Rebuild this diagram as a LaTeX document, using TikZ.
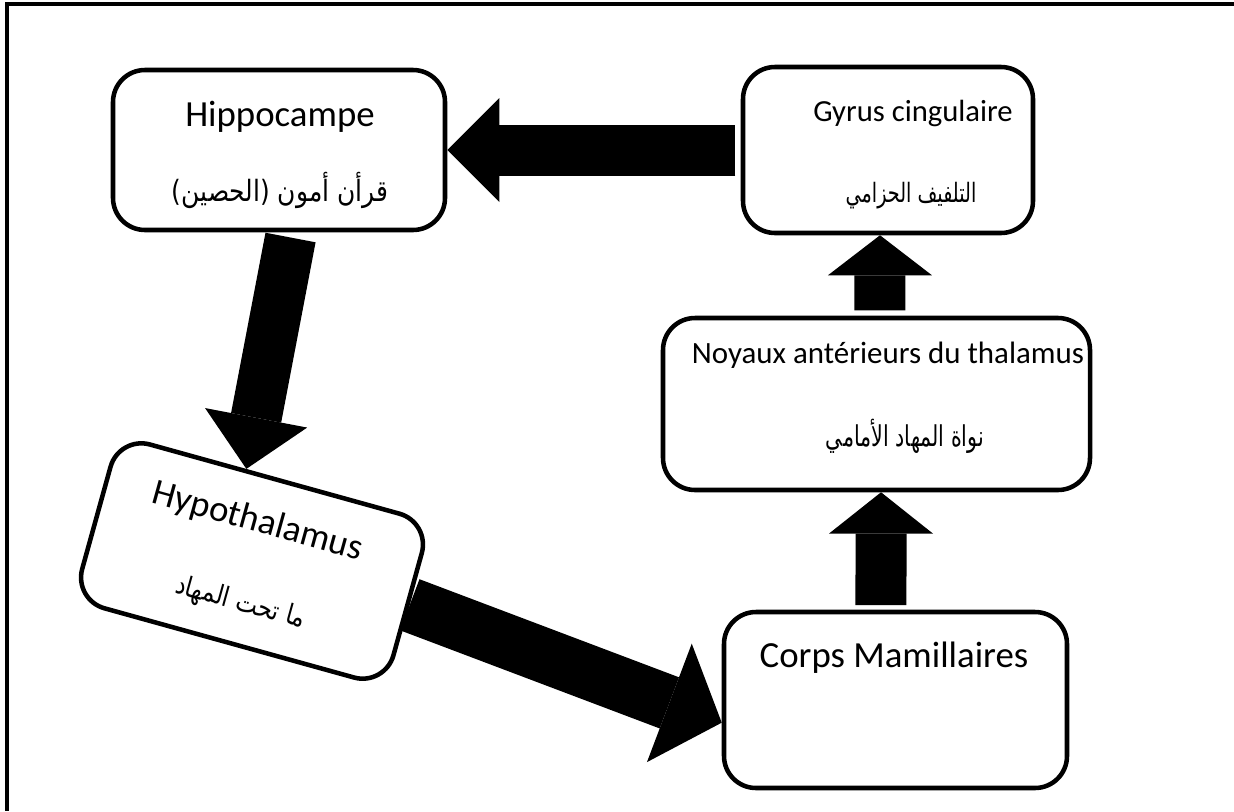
\documentclass[tikz,border=0pt]{standalone}
\usepackage{fontspec}
\setmainfont{Carlito}
\newfontfamily\arabicfont[Script=Arabic,FakeStretch=0.85]{DejaVu Sans}
\newfontfamily\arabicnarrow[Script=Arabic,FakeStretch=0.72]{DejaVu Sans}
\TeXXeTstate=1
\usetikzlibrary{arrows.meta}

\tikzset{
  roundbox/.style={draw, line width=3.4pt, rounded corners=24pt, inner sep=0pt},
  frtext/.style={font=\fontsize{27.6}{32}\selectfont},
  artext/.style={font=\arabicfont\fontsize{#1}{30}\selectfont},
  artext/.default=18,
  arnarrow/.style={font=\arabicnarrow\fontsize{#1}{30}\selectfont},
  bigarrow/.style={line width=38.25pt, -{Triangle[length=#1,width=78pt,line width=0pt]}},
  bigarrow/.default=39pt,
  frameline/.style={line width=2.3pt}
}

\begin{document}
\begin{tikzpicture}[x=0.75pt,y=0.75pt,yscale=-1,xscale=1]
\useasboundingbox (0,0) rectangle (1234,811);
%Frame lines
\draw[frameline] (1234,4) -- (7,4) -- (7,811);
%Rounded Rect [Hippocampe]
\node[roundbox, minimum width=249pt, minimum height=120pt] (hippo) at (279,150) {};
% Text Node
\node[frtext] (hippoFr) at (280,117) {Hippocampe};
% Text Node
\node[artext=22] (hippoAr) at (280,190) {\beginR قرأن أمون (الحصين)\endR};
%Rounded Rect [Gyrus]
\node[roundbox, minimum width=217.5pt, minimum height=124.5pt] (gyrus) at (888,150) {};
% Text Node
\node[font=\fontsize{23}{30}\selectfont] (gyrusFr) at (913,113) {Gyrus cingulaire};
% Text Node
\node[arnarrow=20] (gyrusAr) at (911,196) {\beginR التلفيف الحزامي\endR};
%Rounded Rect [Noyaux]
\node[roundbox, minimum width=320.25pt, minimum height=129pt] (noyaux) at (876.5,404) {};
% Text Node
\node[font=\fontsize{23.2}{30}\selectfont] (noyauxFr) at (888,355) {Noyaux antérieurs du thalamus};
% Text Node
\node[arnarrow=21.5] (noyauxAr) at (905,436) {\beginR نواة المهاد الأمامي\endR};
%Rounded Rect [Corps]
\node[roundbox, minimum width=257.25pt, minimum height=132pt] (corps) at (895.5,700) {};
% Text Node
\node[frtext] (corpsFr) at (894,658) {Corps Mamillaires};
%Rounded Rect [Hypothalamus]
\node[roundbox, rotate=-15.5, minimum width=242.25pt, minimum height=127.5pt] (hypo) at (252,561) {};
% Text Node
\node[frtext, rotate=-15.5] (hypoFr) at (257.6,522) {Hypothalamus};
% Text Node
\node[artext=20.5, rotate=-15.5] (hypoAr) at (240.3,603.4) {\beginR ما تحت المهاد\endR};
%Block Arrows
\draw[bigarrow, shorten <=4pt] (gyrus.west) -- (hippo.east);
\draw[bigarrow, shorten <=4pt] ([xshift=9.4pt]hippo.south) -- (hypo.109);
\draw[line width=41pt, -{Triangle[length=42pt,width=95pt,line width=0pt]}] (hypo.east) -- ([yshift=17pt]corps.west);
\draw[bigarrow=31pt, shorten <=3.5pt] ([xshift=-10.9pt]corps.north) -- ([xshift=3.4pt]noyaux.south);
\draw[bigarrow=30pt, shorten <=4pt] ([xshift=2.6pt]noyaux.north) -- ([xshift=-6pt]gyrus.south);
\end{tikzpicture}
\end{document}
